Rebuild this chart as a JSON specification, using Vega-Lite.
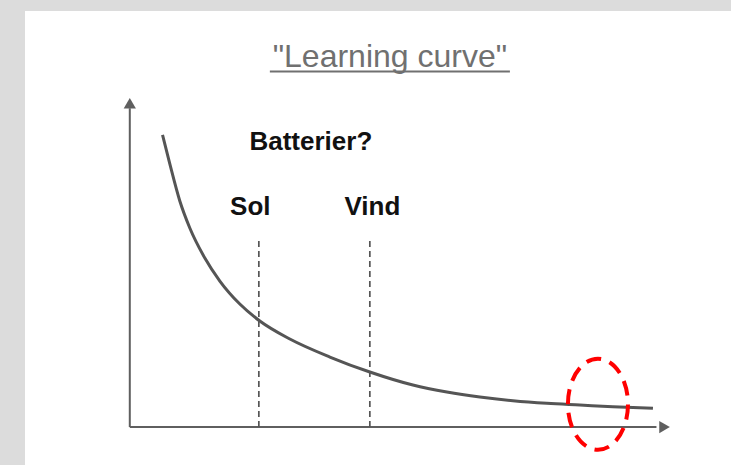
{
  "$schema": "https://vega.github.io/schema/vega-lite/v6.json",
  "width": 731,
  "height": 465,
  "autosize": {"type": "fit", "contains": "padding"},
  "padding": {"left": 25, "top": 11, "right": 0, "bottom": 0},
  "background": "#dcdcdc",
  "view": {"fill": "white", "stroke": null},
  "config": {"font": "Liberation Sans"},
  "datasets": {
    "curve": [
      {"x": 0.606, "y": 8.93},
      {"x": 0.741, "y": 8.043},
      {"x": 0.926, "y": 6.911},
      {"x": 1.111, "y": 6.086},
      {"x": 1.389, "y": 5.168},
      {"x": 1.667, "y": 4.465},
      {"x": 2.037, "y": 3.761},
      {"x": 2.407, "y": 3.242},
      {"x": 2.963, "y": 2.691},
      {"x": 3.704, "y": 2.141},
      {"x": 4.444, "y": 1.682},
      {"x": 5.241, "y": 1.284},
      {"x": 5.87, "y": 1.07},
      {"x": 6.481, "y": 0.917},
      {"x": 7.093, "y": 0.804},
      {"x": 7.722, "y": 0.725},
      {"x": 8.333, "y": 0.673},
      {"x": 8.944, "y": 0.621},
      {"x": 9.685, "y": 0.572}
    ],
    "axes": [
      {"x": 0, "y": 0, "x2": 0, "y2": 9.75},
      {"x": 0, "y": 0, "x2": 9.75, "y2": 0}
    ],
    "arrows": [
      {"x": 0, "y": 9.9, "dir": "up"},
      {"x": 9.9, "y": 0, "dir": "right"}
    ],
    "markers": [
      {"x": 2.389, "y": 0, "x2": 2.389, "y2": 5.81},
      {"x": 4.444, "y": 0, "x2": 4.444, "y2": 5.81}
    ],
    "labels": [
      {"x": 3.352, "y": 8.47, "label": "Batterier?"},
      {"x": 2.231, "y": 6.48, "label": "Sol"},
      {"x": 4.491, "y": 6.48, "label": "Vind"}
    ],
    "title": [
      {"x": 4.815, "y": 11.01, "label": "\"Learning curve\"", "x2": 7.037, "xs": 2.593, "yu": 10.87}
    ],
    "focus": [
      {"x": 8.667, "y": 0.697}
    ]
  },
  "encoding": {
    "x": {"field": "x", "type": "quantitative", "scale": {"domain": [-1.94, 11.13], "nice": false, "zero": false}, "axis": null},
    "y": {"field": "y", "type": "quantitative", "scale": {"domain": [-1.16, 12.72], "nice": false, "zero": false}, "axis": null}
  },
  "layer": [
    {
      "data": {"name": "axes"},
      "mark": {"type": "rule", "color": "#5f5f5f", "strokeWidth": 2},
      "encoding": {
        "x2": {"field": "x2"},
        "y2": {"field": "y2"}
      }
    },
    {
      "data": {"name": "arrows"},
      "mark": {"type": "point", "filled": true, "color": "#5f5f5f", "size": 150, "opacity": 1},
      "encoding": {
        "shape": {"field": "dir", "type": "nominal", "scale": {"domain": ["up", "right"], "range": ["triangle-up", "triangle-right"]}, "legend": null}
      }
    },
    {
      "data": {"name": "markers"},
      "mark": {"type": "rule", "color": "#555555", "strokeWidth": 1.7, "strokeDash": [6, 4]},
      "encoding": {
        "x2": {"field": "x2"},
        "y2": {"field": "y2"}
      }
    },
    {
      "data": {"name": "curve"},
      "mark": {"type": "line", "color": "#555555", "strokeWidth": 3, "interpolate": "monotone"},
      "encoding": {}
    },
    {
      "data": {"name": "labels"},
      "mark": {"type": "text", "fontSize": 26, "fontWeight": "bold", "color": "#111111", "align": "center", "baseline": "alphabetic"},
      "encoding": {
        "text": {"field": "label", "type": "nominal"}
      }
    },
    {
      "data": {"name": "title"},
      "mark": {"type": "text", "fontSize": 32, "color": "#707070", "align": "center", "baseline": "alphabetic"},
      "encoding": {
        "text": {"field": "label", "type": "nominal"}
      }
    },
    {
      "data": {"name": "title"},
      "mark": {"type": "rule", "color": "#707070", "strokeWidth": 2},
      "encoding": {
        "x": {"field": "xs", "type": "quantitative"},
        "x2": {"field": "x2"},
        "y": {"field": "yu", "type": "quantitative"}
      }
    },
    {
      "data": {"name": "focus"},
      "mark": {"type": "point", "shape": "M -0.66 0 A 0.66 1 0 1 1 0.66 0 A 0.66 1 0 1 1 -0.66 0 Z", "size": 8281, "filled": false, "stroke": "#ff0000", "strokeWidth": 4, "strokeDash": [15, 9], "opacity": 1},
      "encoding": {}
    }
  ]
}
